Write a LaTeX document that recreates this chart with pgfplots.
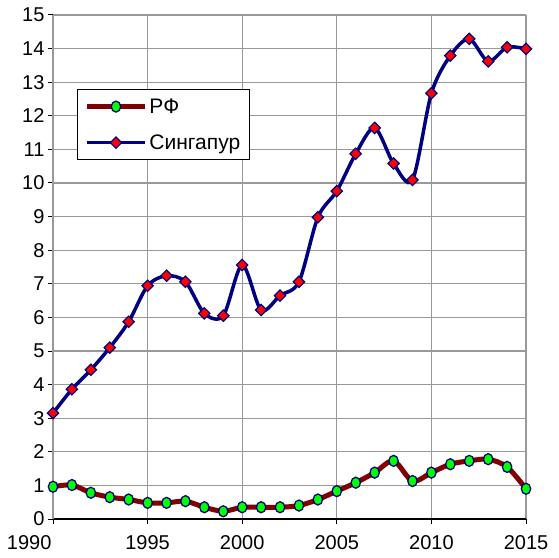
\documentclass[border=0pt]{standalone}
\usepackage{fontspec}
\setmainfont{Liberation Sans}
\usepackage{pgfplots}
\pgfplotsset{compat=1.18}
\definecolor{rfline}{RGB}{128,0,0}
\definecolor{navyc}{RGB}{0,0,128}
\definecolor{mgreen}{RGB}{0,255,0}
\definecolor{mred}{RGB}{255,0,0}
\begin{document}
\begin{tikzpicture}
\begin{axis}[
  at={(0,0)}, anchor=south west,
  scale only axis, width=473pt, height=504pt,
  xmin=1990, xmax=2015, ymin=0, ymax=15,
  xtick={1995,2000,...,2015},
  xticklabels={1995,2000,2005,2010,{2015\hspace{8pt}}},
  ytick={0,1,...,15},
  extra x ticks={1990},
  extra x tick labels={1990},
  extra x tick style={xticklabel style={anchor=north east, xshift=2pt}},
  grid=major, major grid style={line width=1.3pt, color=black!40},
  axis x line*=bottom, axis y line*=left,
  axis line style={line width=1.2pt, -},
  tick align=outside,
  major tick length=5pt,
  tick style={black, line width=1pt},
  x tick label style={yshift=-8pt},
  /pgf/number format/assume math mode=true,
  tick label style={font=\fontsize{20}{24}\selectfont},
  legend style={at={(0.0507,0.853)}, anchor=north west, draw=black, line width=1pt,
    font=\fontsize{21}{24}\selectfont, row sep=16pt, inner sep=7pt},
  legend cell align=left,
  legend image code/.code={\draw[mark repeat=2,mark phase=2,#1] plot coordinates {(0pt,0pt) (29pt,0pt) (58pt,0pt)};},
]
\addplot[rfline, line width=5pt, smooth, mark=*, mark size=5.5pt,
  mark options={xscale=0.85, fill=mgreen, draw=navyc, line width=1.3pt, solid}]
coordinates {
(1990,0.96) (1991,1.01) (1992,0.78) (1993,0.65) (1994,0.58) (1995,0.48)
(1996,0.48) (1997,0.53) (1998,0.35) (1999,0.23) (2000,0.35) (2001,0.35)
(2002,0.35) (2003,0.40) (2004,0.58) (2005,0.83) (2006,1.08) (2007,1.38)
(2008,1.73) (2009,1.13) (2010,1.38) (2011,1.63) (2012,1.73) (2013,1.78)
(2014,1.55) (2015,0.90)
};
\addlegendentry{РФ}
\addplot[navyc, line width=3.5pt, smooth, mark=square*, mark size=4pt,
  mark options={rotate=45, fill=mred, draw=navyc, line width=1.2pt, solid}]
coordinates {
(1990,3.15) (1991,3.86) (1992,4.44) (1993,5.10) (1994,5.87) (1995,6.94)
(1996,7.24) (1997,7.06) (1998,6.12) (1999,6.05) (2000,7.56) (2001,6.22)
(2002,6.65) (2003,7.06) (2004,8.98) (2005,9.76) (2006,10.87) (2007,11.64)
(2008,10.58) (2009,10.09) (2010,12.67) (2011,13.79) (2012,14.29) (2013,13.62)
(2014,14.04) (2015,13.99)
};
\addlegendentry{Сингапур}
\end{axis}
\pgfresetboundingbox
\path[use as bounding box] (-53pt,-38pt) rectangle (506pt,519pt);
\end{tikzpicture}
\end{document}
